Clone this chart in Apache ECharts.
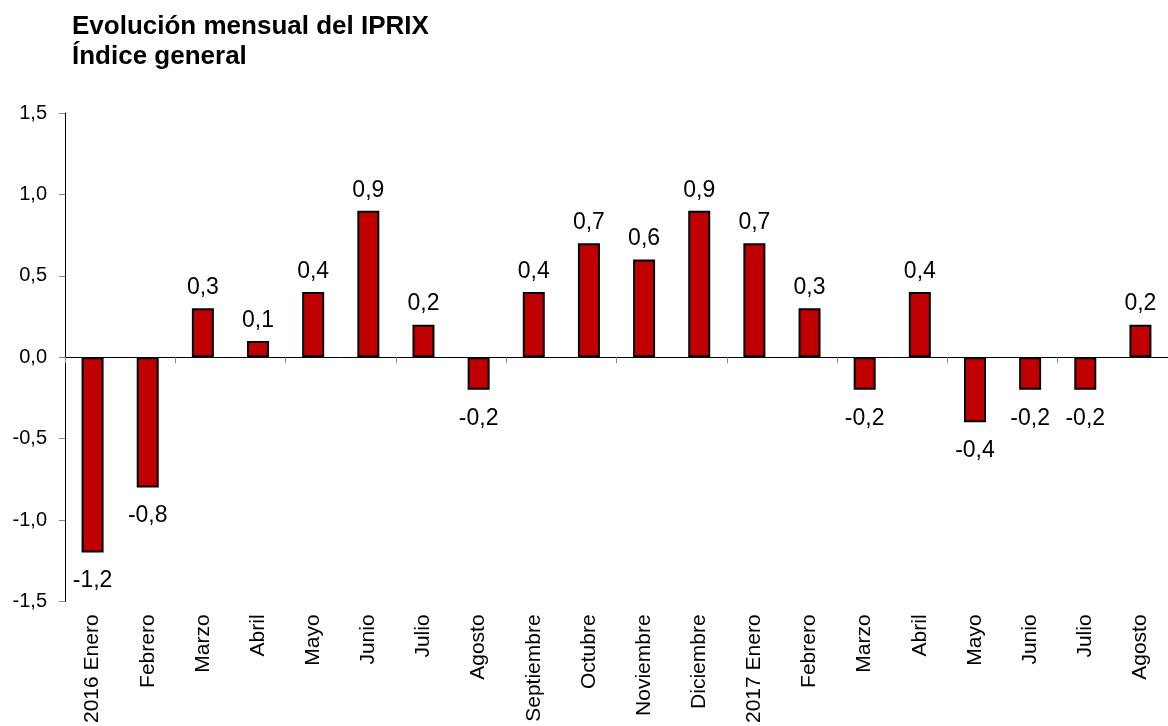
<!DOCTYPE html>
<html>
<head>
<meta charset="utf-8">
<script src="https://cdn.jsdelivr.net/npm/echarts@6/dist/echarts.min.js"></script>
<style>
  html, body { margin: 0; padding: 0; background: #fff; }
  #chart { width: 1168px; height: 726px; }
</style>
</head>
<body>
<div id="chart"></div>
<script>
var months = ['2016 Enero', 'Febrero', 'Marzo', 'Abril', 'Mayo', 'Junio', 'Julio', 'Agosto',
  'Septiembre', 'Octubre', 'Noviembre', 'Diciembre', '2017 Enero', 'Febrero', 'Marzo',
  'Abril', 'Mayo', 'Junio', 'Julio', 'Agosto'];
var values = [-1.2, -0.8, 0.3, 0.1, 0.4, 0.9, 0.2, -0.2, 0.4, 0.7, 0.6, 0.9, 0.7, 0.3, -0.2,
  0.4, -0.4, -0.2, -0.2, 0.2];
var yTicks = [-1.5, -1.0, -0.5, 0.0, 0.5, 1.0, 1.5];

var font = 'Liberation Sans, Arial, sans-serif';
function comma(v) {
  return Number(v).toFixed(1).replace('.', ',');
}

var chart = echarts.init(document.getElementById('chart'));

var option = {
  animation: false,
  title: {
    text: 'Evolución mensual del IPRIX\nÍndice general',
    left: 67,
    top: 7,
    textStyle: {
      fontFamily: font,
      fontWeight: 'bold',
      fontSize: 26,
      lineHeight: 30,
      color: '#000'
    }
  },
  grid: {
    left: 65,
    top: 113,
    width: 1115,
    height: 491
  },
  xAxis: [{
    type: 'category',
    data: months,
    position: 'bottom',
    axisLine: { show: false, onZero: false },
    axisTick: { show: false },
    axisLabel: {
      rotate: 90,
      interval: 0,
      margin: 13,
      fontFamily: font,
      fontSize: 21,
      color: '#000'
    }
  }, {
    type: 'category',
    data: months,
    position: 'top',
    axisLine: { show: true, onZero: true, lineStyle: { color: '#000', width: 1 } },
    axisTick: { show: true, inside: true, length: 6, lineStyle: { color: '#888' } },
    axisLabel: { show: false }
  }],
  yAxis: {
    type: 'value',
    min: yTicks[0],
    max: yTicks[yTicks.length - 1],
    interval: 0.5,
    splitLine: { show: false },
    axisLine: { show: true, lineStyle: { color: '#000', width: 1 } },
    axisTick: { show: true, length: 6, lineStyle: { color: '#888' } },
    axisLabel: {
      margin: 18,
      fontFamily: font,
      fontSize: 20,
      color: '#000',
      formatter: comma
    }
  },
  series: [{
    type: 'bar',
    xAxisIndex: 0,
    barWidth: 22,
    data: values.map(function(v) {
      return {
        value: v,
        label: v < 0 ? { position: 'bottom', distance: 17 } : { position: 'top', distance: 9 }
      };
    }),
    itemStyle: {
      color: '#c00000',
      borderColor: '#000',
      borderWidth: 2
    },
    label: {
      show: true,
      fontFamily: font,
      fontSize: 23,
      color: '#000',
      formatter: function(p) { return comma(p.value); }
    }
  }]
};

chart.setOption(option);
</script>
</body>
</html>
